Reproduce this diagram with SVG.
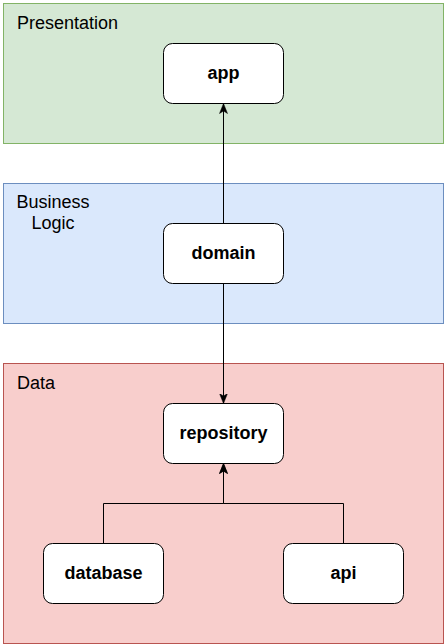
<svg xmlns="http://www.w3.org/2000/svg" width="447" height="644" viewBox="0 0 447 644">
<style>
.lane{stroke-width:1}
.lbl{font-family:"Liberation Sans",Arial,sans-serif;font-size:18px;fill:#000}
.node rect{fill:#fff;stroke:#000;stroke-width:1}
.node text{font-family:"Liberation Sans",Arial,sans-serif;font-size:18px;font-weight:bold;fill:#000;text-anchor:middle}
.edge{fill:none;stroke:#000;stroke-width:1}
</style>
<defs>
<marker id="arr" viewBox="0 0 10 10" refX="10" refY="5" markerWidth="10" markerHeight="10" markerUnits="userSpaceOnUse" orient="auto">
<path d="M0,1 L10,5 L0,9 L2.5,5 Z" fill="#000" stroke="#000" stroke-width="0.5"/>
</marker>
</defs>
<g id="lane-presentation">
<rect class="lane" x="3.5" y="3.5" width="440" height="140" fill="#d5e8d4" stroke="#82b366"/>
<text class="lbl" x="17" y="29">Presentation</text>
</g>
<g id="lane-business">
<rect class="lane" x="3.5" y="183.5" width="440" height="140" fill="#dae8fc" stroke="#6c8ebf"/>
<text class="lbl" x="53" y="208" text-anchor="middle">Business</text>
<text class="lbl" x="53" y="229" text-anchor="middle">Logic</text>
</g>
<g id="lane-data">
<rect class="lane" x="3.5" y="363.5" width="440" height="280" fill="#f8cecc" stroke="#b85450"/>
<text class="lbl" x="17" y="389">Data</text>
</g>
<g id="connectors">
<path class="edge" d="M223.5,223.5 V103.5" marker-end="url(#arr)"/>
<path class="edge" d="M223.5,283.5 V403.5" marker-end="url(#arr)"/>
<path class="edge" d="M103.5,543.5 V503.5 H223.5 V463.5" marker-end="url(#arr)"/>
<path class="edge" d="M343.5,543.5 V503.5 H223.5 V463.5" marker-end="url(#arr)"/>
</g>
<g id="node-app" class="node">
<rect x="163.5" y="43.5" width="120" height="60" rx="9" ry="9"/>
<text x="223.5" y="79">app</text>
</g>
<g id="node-domain" class="node">
<rect x="163.5" y="223.5" width="120" height="60" rx="9" ry="9"/>
<text x="223.5" y="259">domain</text>
</g>
<g id="node-repository" class="node">
<rect x="163.5" y="403.5" width="120" height="60" rx="9" ry="9"/>
<text x="223.5" y="439">repository</text>
</g>
<g id="node-database" class="node">
<rect x="43.5" y="543.5" width="120" height="60" rx="9" ry="9"/>
<text x="103.5" y="579">database</text>
</g>
<g id="node-api" class="node">
<rect x="283.5" y="543.5" width="120" height="60" rx="9" ry="9"/>
<text x="343.5" y="579">api</text>
</g>
</svg>
